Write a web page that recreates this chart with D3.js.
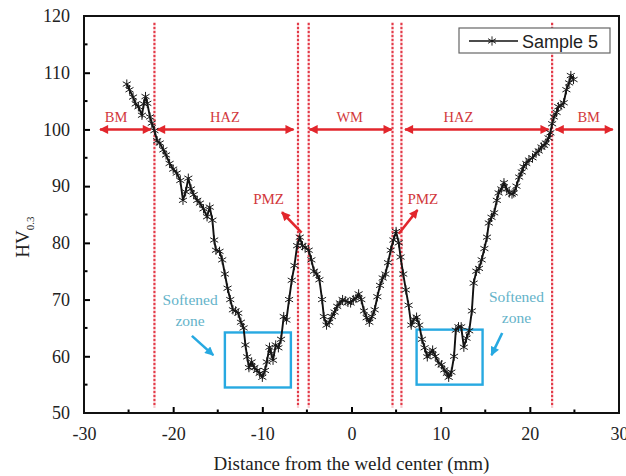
<!DOCTYPE html>
<html>
<head>
<meta charset="utf-8">
<script src="https://cdn.jsdelivr.net/npm/d3@7"></script>
<style>
  body { margin: 0; background: #fff; }
  svg { display: block; }
</style>
</head>
<body>
<svg id="chart"></svg>
<script>
// Microhardness profile across the weld
const distance = [
  -25.2, -24.9, -24.5, -24.2, -23.9, -23.5, -23.3, -23.1, -22.9, -22.6,
  -22.4, -22.1, -21.8, -21.5, -21.1, -20.8, -20.4, -20.0, -19.6, -19.2,
  -18.9, -18.6, -18.3, -18.0, -17.7, -17.3, -17.0, -16.6, -16.2, -15.9,
  -15.6, -15.4, -15.2, -14.8, -14.5, -14.2, -13.9, -13.6, -13.3, -13.0,
  -12.7, -12.4, -12.1, -11.9, -11.7, -11.5, -11.2, -10.9, -10.6, -10.3,
  -10.0, -9.7, -9.5, -9.2, -9.0, -8.8, -8.5, -8.2, -7.9, -7.6,
  -7.3, -7.0, -6.7, -6.4, -6.1, -5.8, -5.5, -5.2, -4.8, -4.5,
  -4.2, -3.9, -3.6, -3.3, -3.1, -2.8, -2.5, -2.2, -1.9, -1.6,
  -1.3, -1.0, -0.7, -0.4, -0.1, 0.2, 0.5, 0.8, 1.1, 1.4,
  1.7, 2.0, 2.3, 2.6, 2.9, 3.2, 3.5, 3.8, 4.1, 4.4,
  4.7, 5.0, 5.3, 5.5, 5.8, 6.1, 6.4, 6.7, 7.0, 7.3,
  7.6, 7.9, 8.2, 8.5, 8.8, 9.1, 9.4, 9.8, 10.1, 10.4,
  10.7, 10.9, 11.2, 11.5, 11.7, 12.0, 12.3, 12.6, 12.9, 13.2,
  13.5, 13.7, 14.0, 14.3, 14.6, 14.9, 15.2, 15.4, 15.7, 16.0,
  16.3, 16.5, 16.8, 17.1, 17.4, 17.7, 18.0, 18.2, 18.5, 18.8,
  19.1, 19.3, 19.6, 19.9, 20.3, 20.7, 21.0, 21.3, 21.6, 21.8,
  22.1, 22.3, 22.5, 22.7, 23.0, 23.2, 23.5, 23.8, 24.1, 24.4,
  24.6, 24.9
];
const hardness = [
  108.0, 107.0, 105.7, 104.5, 104.0, 102.5, 104.5, 105.8, 104.6, 102.2,
  101.1, 99.8, 98.0, 97.6, 96.4, 95.5, 94.0, 93.0, 92.3, 91.0,
  87.5, 89.0, 91.4, 89.5, 88.5, 87.5, 87.0, 86.0, 84.6, 86.3,
  84.0, 80.5, 78.7, 78.5, 77.0, 74.5, 72.0, 70.0, 68.2, 68.0,
  67.6, 66.0, 65.0, 62.0, 59.9, 58.0, 59.0, 58.0, 57.5, 57.0,
  56.3, 57.5, 59.0, 61.6, 60.5, 59.3, 62.0, 61.5, 63.0, 67.0,
  66.4, 70.0, 73.4, 76.0, 79.5, 81.0, 79.5, 79.2, 78.7, 77.0,
  75.0, 74.5, 73.5, 70.0, 67.0, 65.5, 66.0, 67.0, 67.8, 68.8,
  69.4, 70.0, 69.8, 69.5, 69.4, 70.0, 70.2, 71.0, 70.0, 68.0,
  66.8, 66.0, 67.0, 68.2, 70.5, 72.5, 73.8, 74.5, 76.5, 78.7,
  80.5, 82.0, 80.0, 77.5, 74.5, 71.7, 69.0, 65.5, 66.5, 66.9,
  65.5, 63.0, 61.5, 59.9, 60.5, 61.1, 60.0, 58.8, 58.5, 57.6,
  57.0, 56.3, 57.2, 60.0, 64.6, 65.2, 65.2, 61.6, 63.2, 64.5,
  68.0, 72.9, 75.0, 75.5, 77.0, 79.0, 81.0, 83.5, 84.5, 85.3,
  87.5, 88.8, 89.5, 90.6, 89.5, 88.8, 88.6, 88.8, 90.0, 91.6,
  92.5, 93.4, 94.0, 94.6, 95.0, 95.8, 96.2, 96.9, 97.2, 97.6,
  98.5, 99.4, 101.0, 102.2, 103.0, 104.0, 104.2, 104.7, 107.0, 108.2,
  109.5, 108.8
];

const xTicks = [-30, -20, -10, 0, 10, 20, 30];
const xMinorTicks = [-25, -15, -5, 5, 15, 25];
const yTicks = [50, 60, 70, 80, 90, 100, 110, 120];
const yMinorTicks = [55, 65, 75, 85, 95, 105, 115];

// zone boundaries and zone arrows (drawn at HV = 100)
const boundaries = [-22.1, -6.0, -4.8, 4.6, 5.6, 22.5];
const zoneNames = ['BM', 'HAZ', 'WM', 'HAZ', 'BM'];
const zoneStart = [-28.2, -21.8, -4.7, 6.0, 22.9];
const zoneEnd = [-22.5, -6.5, 4.5, 22.1, 29.3];
const zoneLabelX = [-26.4, -14.2, -0.2, 12.0, 26.6];
const zoneLevel = 100;

// softened zone boxes
const softX0 = [-14.2, 7.3];
const softX1 = [-6.8, 14.7];
const softY0 = [54.5, 55.0];
const softY1 = [64.2, 64.7];

const width = 626;
const height = 476;
const red = '#e2262c';
const blue = '#27a9e1';
const serif = '"Liberation Serif", "Times New Roman", serif';

const svg = d3.select('#chart')
  .attr('width', width)
  .attr('height', height)
  .style('font-family', serif);

const x = d3.scaleLinear().domain([-30, 30]).range([84, 619]);
const y = d3.scaleLinear().domain([50, 120]).range([413, 16]);

const defs = svg.append('defs');
function arrowMarker(id, color, w, h) {
  defs.append('marker')
    .attr('id', id)
    .attr('viewBox', '0 0 10 10')
    .attr('refX', 9).attr('refY', 5)
    .attr('markerUnits', 'userSpaceOnUse')
    .attr('markerWidth', w).attr('markerHeight', h)
    .attr('orient', 'auto-start-reverse')
    .append('path')
    .attr('d', 'M0,0 L10,5 L0,10 Z')
    .attr('fill', color);
}
arrowMarker('redHead', red, 11, 9);
arrowMarker('blueHead', blue, 10, 9);

// vertical dotted boundaries
svg.append('g').selectAll('line')
  .data(boundaries)
  .join('line')
  .attr('x1', d => x(d)).attr('x2', d => x(d))
  .attr('y1', y(118.8)).attr('y2', y(51))
  .attr('stroke', '#e33a48')
  .attr('stroke-width', 2.2)
  .attr('stroke-dasharray', '2.4,1.6');

// zone arrows
const zones = zoneNames.map((n, i) => ({ name: n, x0: zoneStart[i], x1: zoneEnd[i], lx: zoneLabelX[i] }));
const zoneG = svg.append('g');
zoneG.selectAll('line')
  .data(zones)
  .join('line')
  .attr('x1', d => x(d.x0)).attr('x2', d => x(d.x1))
  .attr('y1', y(zoneLevel)).attr('y2', y(zoneLevel))
  .attr('stroke', red)
  .attr('stroke-width', 2.6)
  .attr('marker-start', 'url(#redHead)')
  .attr('marker-end', 'url(#redHead)');
zoneG.selectAll('text')
  .data(zones)
  .join('text')
  .attr('x', d => x(d.lx))
  .attr('y', y(zoneLevel) - 7)
  .attr('text-anchor', 'middle')
  .attr('font-size', 14.5)
  .attr('fill', '#d2383c')
  .text(d => d.name);

// softened zone boxes
const boxes = softX0.map((d, i) => ({ x0: d, x1: softX1[i], y0: softY0[i], y1: softY1[i] }));
svg.append('g').selectAll('rect')
  .data(boxes)
  .join('rect')
  .attr('x', d => x(d.x0))
  .attr('y', d => y(d.y1))
  .attr('width', d => x(d.x1) - x(d.x0))
  .attr('height', d => y(d.y0) - y(d.y1))
  .attr('fill', 'none')
  .attr('stroke', blue)
  .attr('stroke-width', 2.4);

// hardness curve
const pts = distance.map((d, i) => [d, hardness[i]]);
svg.append('path')
  .datum(pts)
  .attr('fill', 'none')
  .attr('stroke', '#111')
  .attr('stroke-width', 1.9)
  .attr('d', d3.line().x(d => x(d[0])).y(d => y(d[1])));

const star = d3.symbol().type(d3.symbolAsterisk).size(60);
svg.append('g').selectAll('path')
  .data(pts)
  .join('path')
  .attr('transform', d => `translate(${x(d[0])},${y(d[1])})`)
  .attr('d', star)
  .attr('fill', 'none')
  .attr('stroke', '#1a1a1a')
  .attr('stroke-width', 1);

// PMZ labels and arrows
svg.append('text').attr('x', x(-9.3)).attr('y', y(86.9))
  .attr('text-anchor', 'middle').attr('font-size', 15).attr('fill', '#d2383c').text('PMZ');
svg.append('text').attr('x', x(8.0)).attr('y', y(86.9))
  .attr('text-anchor', 'middle').attr('font-size', 15).attr('fill', '#d2383c').text('PMZ');
svg.append('line')
  .attr('x1', x(-5.6)).attr('y1', y(81.8)).attr('x2', x(-7.8)).attr('y2', y(85.4))
  .attr('stroke', red).attr('stroke-width', 2.6).attr('marker-end', 'url(#redHead)');
svg.append('line')
  .attr('x1', x(5.3)).attr('y1', y(81.6)).attr('x2', x(7.4)).attr('y2', y(85.8))
  .attr('stroke', red).attr('stroke-width', 2.6).attr('marker-end', 'url(#redHead)');

// softened zone labels and arrows
const softColor = '#64b3c9';
[[-18.1, 69.0, 65.3], [18.5, 69.5, 65.9]].forEach(([cx, l1, l2]) => {
  svg.append('text').attr('x', x(cx)).attr('y', y(l1))
    .attr('text-anchor', 'middle').attr('font-size', 15.5).attr('fill', softColor).text('Softened');
  svg.append('text').attr('x', x(cx)).attr('y', y(l2))
    .attr('text-anchor', 'middle').attr('font-size', 15.5).attr('fill', softColor).text('zone');
});
svg.append('line')
  .attr('x1', x(-17.9)).attr('y1', y(63.6)).attr('x2', x(-15.5)).attr('y2', y(60.2))
  .attr('stroke', blue).attr('stroke-width', 2.6).attr('marker-end', 'url(#blueHead)');
svg.append('line')
  .attr('x1', x(16.9)).attr('y1', y(64.1)).attr('x2', x(15.7)).attr('y2', y(60.2))
  .attr('stroke', blue).attr('stroke-width', 2.6).attr('marker-end', 'url(#blueHead)');

// axes (ticks point inward)
const axisG = svg.append('g');
const xAxis = d3.axisBottom(x).tickValues(xTicks).tickFormat(d => String(d))
  .tickSizeInner(-6).tickSizeOuter(0).tickPadding(14);
const gx = axisG.append('g').attr('transform', `translate(0,${y(50)})`).call(xAxis);
gx.selectAll('.tick').filter(d => d === -30 || d === 30).select('line').remove();
gx.selectAll('text').attr('font-size', 18).attr('font-family', serif).attr('fill', '#222');
gx.selectAll('.tick line').attr('stroke-width', 2);
gx.append('g').selectAll('line')
  .data(xMinorTicks)
  .join('line')
  .attr('x1', d => x(d)).attr('x2', d => x(d))
  .attr('y1', 0).attr('y2', -3.5)
  .attr('stroke', '#000').attr('stroke-width', 2);

const yAxis = d3.axisLeft(y).tickValues(yTicks).tickSizeInner(-6).tickSizeOuter(0).tickPadding(14);
const gy = axisG.append('g').attr('transform', `translate(${x(-30)},0)`).call(yAxis);
gy.selectAll('.tick').filter(d => d === 50 || d === 120).select('line').remove();
gy.selectAll('text').attr('font-size', 18).attr('font-family', serif).attr('fill', '#222');
gy.selectAll('.tick line').attr('stroke-width', 2);
gy.append('g').selectAll('line')
  .data(yMinorTicks)
  .join('line')
  .attr('x1', 0).attr('x2', 3.5)
  .attr('y1', d => y(d)).attr('y2', d => y(d))
  .attr('stroke', '#000').attr('stroke-width', 2);

axisG.selectAll('.domain').remove();
axisG.append('rect')
  .attr('x', x(-30)).attr('y', y(120))
  .attr('width', x(30) - x(-30)).attr('height', y(50) - y(120))
  .attr('fill', 'none').attr('stroke', '#111').attr('stroke-width', 2);

// axis titles
svg.append('text')
  .attr('x', (x(-30) + x(30)) / 2).attr('y', 470)
  .attr('text-anchor', 'middle').attr('font-size', 19).attr('fill', '#222')
  .text('Distance from the weld center (mm)');
const yt = svg.append('text')
  .attr('transform', `translate(29,${y(81)}) rotate(-90)`)
  .attr('text-anchor', 'middle').attr('font-size', 19).attr('fill', '#222');
yt.append('tspan').text('HV');
yt.append('tspan').attr('font-size', 11).attr('dy', 5).text('0.3');

// legend
const lg = svg.append('g');
lg.append('rect').attr('x', 459).attr('y', 28).attr('width', 151).attr('height', 25)
  .attr('fill', '#fff').attr('stroke', '#666').attr('stroke-width', 1.2);
lg.append('line').attr('x1', 469).attr('x2', 518).attr('y1', 41).attr('y2', 41)
  .attr('stroke', '#111').attr('stroke-width', 1.4);
lg.append('path').attr('transform', 'translate(492,41)').attr('d', star)
  .attr('fill', 'none').attr('stroke', '#111').attr('stroke-width', 0.9);
lg.append('text').attr('x', 522).attr('y', 47.5)
  .attr('font-family', '"Liberation Sans", Arial, sans-serif').attr('font-size', 18).attr('fill', '#222')
  .text('Sample 5');
</script>
</body>
</html>
